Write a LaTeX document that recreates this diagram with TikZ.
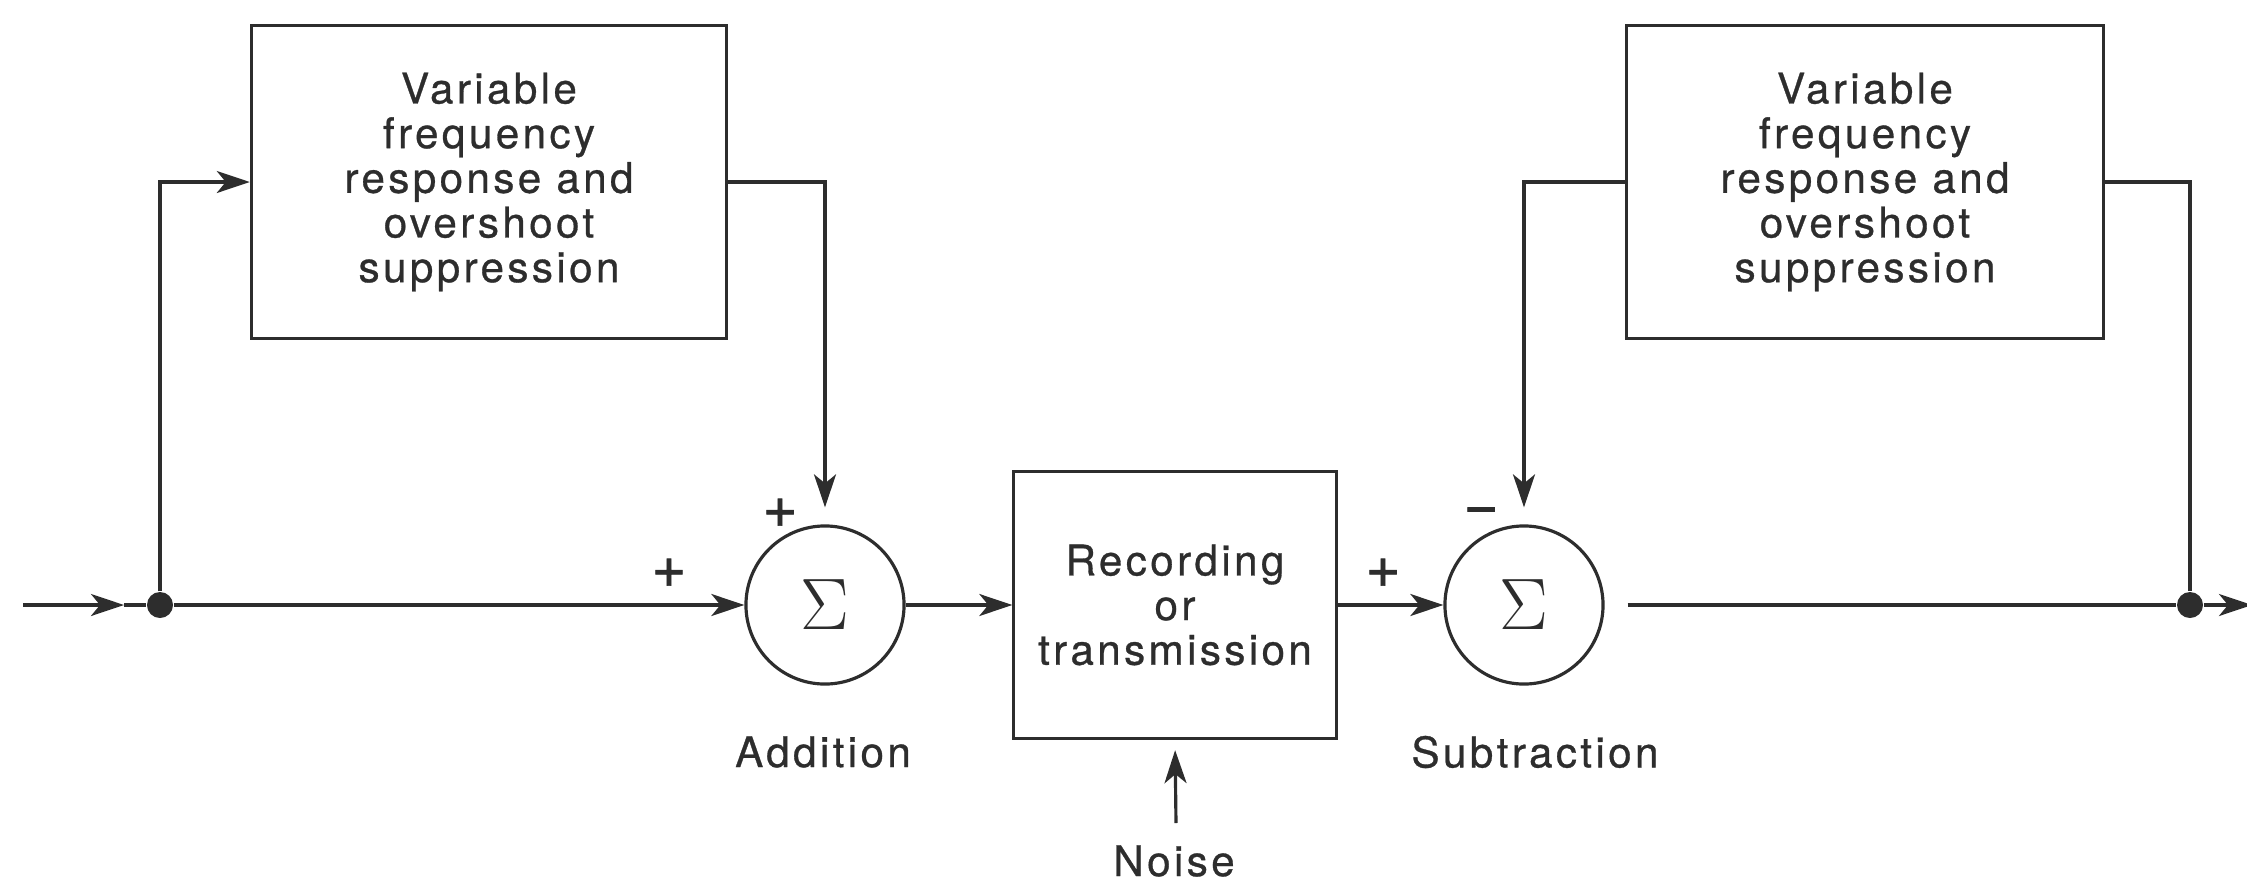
\documentclass[tikz,border=0pt]{standalone}
\usepackage{fontspec}
\newfontfamily\lblfont{TeX Gyre Heros}[LetterSpace=8,FakeBold=0.7]
\newfontfamily\sgnfont{TeX Gyre Heros}[FakeBold=1.2]
\usetikzlibrary{arrows.meta,calc}
\definecolor{ink}{RGB}{45,45,45}
\begin{document}
\begin{tikzpicture}[x=0.01cm,y=-0.01cm,
  ink/.style={draw=ink,line width=0.9pt},
  arr/.style={ink,-{Stealth[length=3.3mm,width=2.2mm,inset=0.9mm]}},
  block/.style={ink,rectangle,align=center,inner sep=0pt,text=ink,
    font=\lblfont\fontsize{12}{12.7}\selectfont},
  summer/.style={ink,circle,minimum size=1.58cm,inner sep=0pt,text=ink,
    font=\fontsize{22}{22}\selectfont},
  junction/.style={circle,fill=ink,minimum size=0.26cm,inner sep=0pt},
  lbl/.style={text=ink,font=\lblfont\fontsize{12}{12.7}\selectfont,inner sep=0pt},
  sgn/.style={text=ink,font=\sgnfont\fontsize{17}{17}\selectfont,inner sep=0pt}]
\useasboundingbox (0,0) rectangle (2247,884);

% blocks
\node[block,minimum width=4.75cm,minimum height=3.12cm] (boxL) at (489,182)
  {Variable\\frequency\\response and\\overshoot\\suppression};
\node[block,minimum width=4.77cm,minimum height=3.12cm] (boxR) at (1865,182)
  {Variable\\frequency\\response and\\overshoot\\suppression};
\node[block,minimum width=3.22cm,minimum height=2.67cm] (rec) at (1175,605)
  {Recording\\or\\transmission};

% summing junctions
\node[summer] (sum1) at (825,605) {$\Sigma$};
\node[summer] (sum2) at (1524,605) {$\Sigma$};

% branch points and free ends
\node[junction] (dotL) at (160,605) {};
\node[junction] (dotR) at (2190,605) {};
\coordinate (in) at (23,605);
\coordinate (intip) at (124,605);
\coordinate (out) at (2252,605);
\coordinate (noisept) at (1176,823);

% signal paths
\draw[arr] (in) -- (intip);
\draw[ink] (intip) -- (dotL);
\draw[arr] (dotL) |- (boxL.west);
\draw[arr] (dotL) -- (sum1.west);
\draw[arr,shorten >=0.17cm] (boxL.east) -| (sum1.north);
\draw[arr] (sum1.east) -- (rec.west);
\draw[arr] (rec.east) -- (sum2.west);
\draw[arr,shorten >=0.17cm] (boxR.west) -| (sum2.north);
\draw[ink,shorten <=0.23cm] (sum2.east) -- (dotR);
\draw[ink] (boxR.east) -| (dotR);
\draw[arr] (dotR) -- (out);
\draw[arr,shorten >=0.1cm] (noisept) -- (rec.south);

% signs and captions
\node[sgn] at (669,573) {+};
\node[sgn] at (780,513) {+};
\node[sgn] at (1383,573) {+};
\node[sgn] at (1481,516) {−};
\node[lbl] (addlbl) at (823,752) {Addition};
\node[lbl] (sublbl) at (1535,752) {Subtraction};
\node[lbl] (noiselbl) at (1174,861) {Noise};
\end{tikzpicture}
\end{document}
